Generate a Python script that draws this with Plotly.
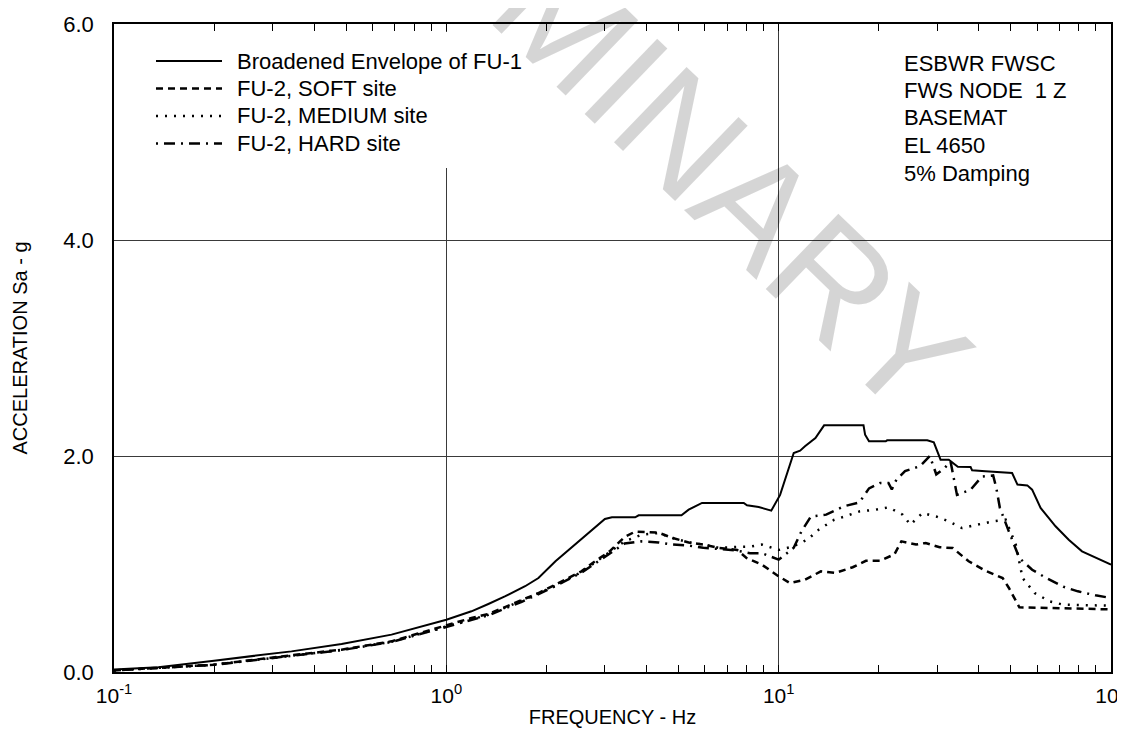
import plotly.graph_objects as go

# ---------------- data ----------------
env_f = [0.1, 0.136, 0.2, 0.242, 0.342, 0.484, 0.684, 1.0, 1.19, 1.338, 1.5, 1.726, 1.893, 2.13, 2.44, 2.8,
         3.0, 3.15, 3.70, 3.79, 5.1, 5.36, 5.88, 7.85, 8.03, 8.71, 9.5, 10.1, 10.6, 11.1, 11.6, 12.0, 12.9,
         13.7, 18.0, 18.2, 18.7, 21.0, 21.2, 28.0, 29.3, 30.7, 32.5, 34.6, 37.8, 38.2, 41.9, 50.4, 52.3,
         56.0, 57.9, 61.4, 68.1, 74.6, 81.8, 89.8, 100]
env_v = [0.022, 0.043, 0.105, 0.136, 0.191, 0.259, 0.346, 0.484, 0.562, 0.63, 0.70, 0.794, 0.870, 1.025,
         1.179, 1.333, 1.417, 1.432, 1.432, 1.451, 1.451, 1.503, 1.565, 1.565, 1.543, 1.528, 1.494, 1.64,
         1.83, 2.028, 2.049, 2.09, 2.167, 2.284, 2.284, 2.197, 2.136, 2.136, 2.145, 2.145, 2.127, 1.966,
         1.966, 1.90, 1.898, 1.867, 1.858, 1.843, 1.735, 1.728, 1.688, 1.519, 1.349, 1.225, 1.117, 1.062,
         0.994]

soft_f = [0.1, 0.2, 0.342, 0.484, 0.684, 1.0, 1.19, 1.338, 1.5, 1.686, 1.893, 2.08, 2.33, 2.55, 2.80,
          3.10, 3.44, 3.70, 4.35, 4.8, 5.36, 5.93, 6.6, 7.5, 8.0, 8.9, 10.0, 10.8, 12.0, 13.4, 14.8, 16.7,
          18.3, 20.2, 22.3, 23.4, 25.9, 27.7, 30.5, 33.4, 37.3, 41.9, 47.2, 49.3, 53.0, 100]
soft_v = [0.015, 0.068, 0.155, 0.207, 0.284, 0.432, 0.50, 0.537, 0.60, 0.67, 0.731, 0.793, 0.87, 0.932,
          1.025, 1.117, 1.25, 1.30, 1.29, 1.24, 1.20, 1.18, 1.15, 1.13, 1.056, 0.994, 0.886, 0.824, 0.855,
          0.932, 0.917, 0.97, 1.03, 1.03, 1.09, 1.21, 1.18, 1.195, 1.155, 1.148, 1.025, 0.938, 0.87, 0.778,
          0.599, 0.58]

med_f = [0.1, 0.2, 0.342, 0.484, 0.684, 1.0, 1.338, 1.686, 2.08, 2.55, 3.10, 3.44, 3.86, 4.35, 4.8, 5.36,
         5.93, 6.6, 7.4, 8.2, 8.9, 10.0, 11.0, 12.2, 13.2, 14.7, 15.8, 17.5, 19.6, 21.4, 23.6, 24.9, 27.1,
         29.8, 32.5, 35.6, 38.8, 44.2, 48.2, 49.3, 51.7, 54.2, 58.9, 65.4, 71.8, 100]
med_v = [0.015, 0.068, 0.150, 0.205, 0.280, 0.425, 0.53, 0.66, 0.785, 0.925, 1.11, 1.21, 1.27, 1.287,
         1.24, 1.20, 1.18, 1.15, 1.157, 1.16, 1.18, 1.13, 1.16, 1.225, 1.318, 1.41, 1.44, 1.487, 1.503,
         1.525, 1.457, 1.364, 1.472, 1.44, 1.395, 1.333, 1.358, 1.395, 1.41, 1.333, 1.179, 0.87, 0.731,
         0.654, 0.623, 0.614]

hard_f = [0.1, 0.2, 0.342, 0.484, 0.684, 1.0, 1.338, 1.686, 2.08, 2.55, 3.10, 3.44, 3.86, 4.35, 4.8, 5.36,
          5.93, 6.6, 7.4, 8.2, 8.9, 10.0, 10.6, 11.1, 11.7, 12.5, 13.9, 15.7, 17.5, 18.7, 20.2, 21.4, 21.9,
          22.6, 24.0, 26.6, 28.5, 29.8, 31.6, 32.9, 34.4, 37.8, 40.9, 44.2, 45.2, 46.3, 49.3, 53.0, 57.9,
          63.9, 71.8, 79.5, 89.8, 100]
hard_v = [0.015, 0.066, 0.150, 0.203, 0.278, 0.42, 0.525, 0.65, 0.78, 0.92, 1.10, 1.19, 1.21, 1.20, 1.18,
          1.17, 1.15, 1.14, 1.127, 1.10, 1.10, 1.04, 1.10, 1.15, 1.30, 1.44, 1.457, 1.534, 1.57, 1.70, 1.75,
          1.75, 1.69, 1.78, 1.86, 1.905, 2.0, 1.83, 1.889, 1.95, 1.64, 1.688, 1.81, 1.82, 1.70, 1.52, 1.30,
          1.055, 0.947, 0.87, 0.79, 0.747, 0.71, 0.685]

series_names = ["Broadened Envelope of FU-1", "FU-2, SOFT site", "FU-2, MEDIUM site", "FU-2, HARD site"]
info_lines = ["ESBWR FWSC", "FWS NODE\u00a0\u00a01 Z", "BASEMAT", "EL 4650", "5% Damping"]

x_major = [0.1, 1, 10, 100]
x_major_text = ["10<sup>-1</sup>", "10<sup>0</sup>", "10<sup>1</sup>", "10<sup>2</sup>"]
x_minor = [0.2, 0.3, 0.4, 0.5, 0.6, 0.7, 0.8, 0.9, 2, 3, 4, 5, 6, 7, 8, 9,
           20, 30, 40, 50, 60, 70, 80, 90]
y_ticks = [0, 2, 4, 6]
y_tick_text = ["0.0", "2.0", "4.0", "6.0"]

# ---------------- styling ----------------
FONT = "Liberation Sans, Arial, sans-serif"
styles = [
    dict(color="black", width=2, dash="solid"),
    dict(color="black", width=2.5, dash="7px,5px"),
    dict(color="black", width=2.5, dash="2px,7px"),
    dict(color="black", width=2.5, dash="2px,6px,11px,6px"),
]
xs = [env_f, soft_f, med_f, hard_f]
ys = [env_v, soft_v, med_v, hard_v]

fig = go.Figure()
for f, v, st, nm in zip(xs, ys, styles, series_names):
    fig.add_trace(go.Scatter(x=f, y=v, mode="lines", name=nm, line=st, showlegend=False,
                             hoverinfo="skip"))

# invisible trace so the overlay axis (carrying the minor ticks) is drawn
fig.add_trace(go.Scatter(x=[x_major[0], x_major[-1]], y=[0, 0], xaxis="x2", mode="lines",
                         line=dict(width=0), showlegend=False, hoverinfo="skip"))

W, H = 1125, 743
L, R, T, B = 106, 22, 16, 79
pw, ph = W - L - R, H - T - B


def px(xp):
    return (xp - L) / pw


def py(yp):
    return (H - B - yp) / ph


GRID = "#3a3a3a"
fig.update_layout(
    width=W, height=H,
    margin=dict(l=L, r=R, t=T, b=B, autoexpand=False),
    paper_bgcolor="white", plot_bgcolor="white",
    font=dict(family=FONT, size=22, color="black"),
    showlegend=False,
    xaxis=dict(type="log", range=[-1, 2], tickmode="array", tickvals=x_major, ticktext=x_major_text,
               ticks="inside", ticklen=7, tickwidth=1, tickcolor="black",
               showline=True, linecolor="black", linewidth=1.5, mirror="ticks",
               showgrid=True, gridcolor=GRID, gridwidth=1, zeroline=False,
               ticklabelstandoff=4, tickfont=dict(size=21),
               title=dict(text="FREQUENCY - Hz", font=dict(size=20), standoff=4)),
    xaxis2=dict(type="log", range=[-1, 2], overlaying="x", side="bottom", tickmode="array",
                tickvals=x_minor, ticks="inside", ticklen=7, tickwidth=1, tickcolor="black",
                showticklabels=False, showline=False, mirror="ticks", showgrid=False,
                zeroline=False),
    yaxis=dict(range=[0, 6], tickvals=y_ticks, ticktext=y_tick_text, ticks="",
               showline=True, linecolor="black", linewidth=1.5, mirror=True,
               showgrid=True, gridcolor=GRID, gridwidth=1, zeroline=False,
               ticklabelstandoff=14, tickfont=dict(size=22),
               title=dict(text="ACCELERATION Sa - g", font=dict(size=20), standoff=30)),
)

shapes = []
# white box behind the legend (hides the gridline, as in the reference)
shapes.append(dict(type="rect", xref="paper", yref="paper", x0=px(125), x1=px(535),
                   y0=py(160), y1=py(24), fillcolor="white", line=dict(width=0), layer="above"))
annotations = []
rows = [53, 80.5, 108, 135.5]
for yy, st, nm in zip(rows, styles, series_names):
    shapes.append(dict(type="line", xref="paper", yref="paper", x0=px(148), x1=px(214),
                       y0=py(yy), y1=py(yy), line=dict(color="black", width=st["width"],
                                                       dash=st["dash"]), layer="above"))
    annotations.append(dict(xref="paper", yref="paper", x=px(227), y=py(yy), text=nm,
                            showarrow=False, xanchor="left", yanchor="middle",
                            font=dict(size=22, family=FONT)))

info_rows = [55, 82.5, 110, 137.5, 165]
for yy, t in zip(info_rows, info_lines):
    annotations.append(dict(xref="paper", yref="paper", x=px(894), y=py(yy), text=t,
                            showarrow=False, xanchor="left", yanchor="middle",
                            font=dict(size=22, family=FONT)))

# watermark
annotations.append(dict(xref="paper", yref="paper", x=px(566), y=py(22), text="PRELIMINARY",
                        showarrow=False, xanchor="center", yanchor="middle", textangle=44,
                        font=dict(size=152, family=FONT, color="rgba(0,0,0,0.165)")))

fig.update_layout(shapes=shapes, annotations=annotations)

fig.write_html("out.html")
